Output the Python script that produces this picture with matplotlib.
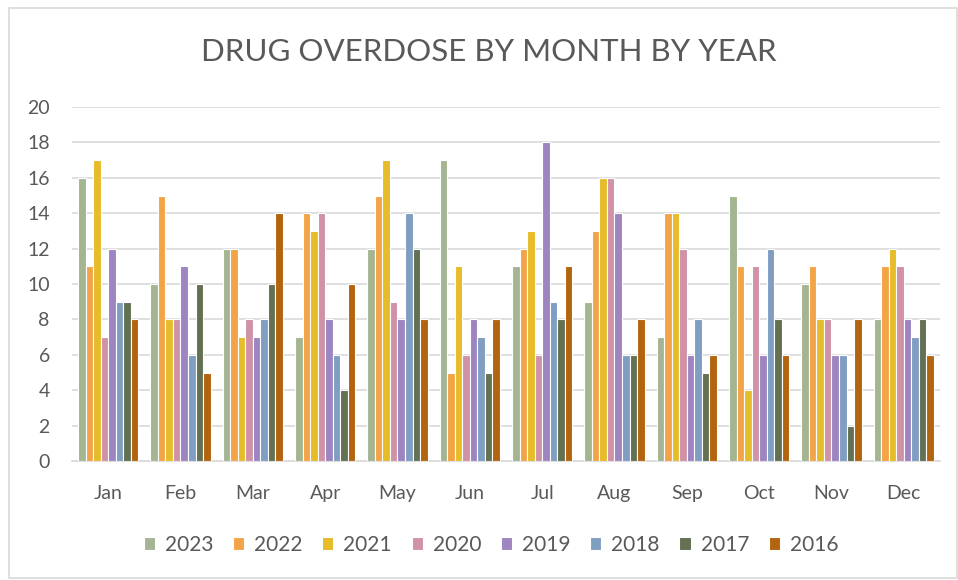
import matplotlib
matplotlib.use("Agg")
import matplotlib.pyplot as plt
from matplotlib.patches import Rectangle
import numpy as np

months = ["Jan", "Feb", "Mar", "Apr", "May", "Jun", "Jul", "Aug", "Sep", "Oct", "Nov", "Dec"]
years = ["2023", "2022", "2021", "2020", "2019", "2018", "2017", "2016"]
colors = ["#A5B592", "#F3A447", "#E7BC29", "#D092A7", "#9C85C0", "#809EC2", "#637052", "#B3640F"]

y2023 = [16, 10, 12, 7, 12, 17, 11, 9, 7, 15, 10, 8]
y2022 = [11, 15, 12, 14, 15, 5, 12, 13, 14, 11, 11, 11]
y2021 = [17, 8, 7, 13, 17, 11, 13, 16, 14, 4, 8, 12]
y2020 = [7, 8, 8, 14, 9, 6, 6, 16, 12, 11, 8, 11]
y2019 = [12, 11, 7, 8, 8, 8, 18, 14, 6, 6, 6, 8]
y2018 = [9, 6, 8, 6, 14, 7, 9, 6, 8, 12, 6, 7]
y2017 = [9, 10, 10, 4, 12, 5, 8, 6, 5, 8, 2, 8]
y2016 = [8, 5, 14, 10, 8, 8, 11, 8, 6, 6, 8, 6]
series = [y2023, y2022, y2021, y2020, y2019, y2018, y2017, y2016]

plt.rcParams['font.family'] = ['Lato', 'DejaVu Sans']
txt = "#595959"
grid = "#D9D9D9"

fig = plt.figure(figsize=(9.58, 5.8), dpi=100)
W, H = 958, 580
ax = fig.add_axes([72 / W, (H - 461) / H, (940 - 72) / W, (461 - 107) / H])

x = np.arange(len(months))
n = len(series)
slot = 0.104
for i, (vals, c, lab) in enumerate(zip(series, colors, years)):
    off = (i - (n - 1) / 2) * slot
    ax.bar(x + off, vals, width=slot, color=c, edgecolor="white", linewidth=0.8, label=lab, zorder=3)

ax.set_xlim(-0.5, len(months) - 0.5)
ax.set_ylim(0, 20)
ax.set_yticks(range(0, 21, 2))
ax.set_xticks(x)
ax.set_xticklabels(months)
ax.yaxis.grid(True, color=grid, linewidth=1.2, zorder=0)
ax.set_axisbelow(True)
for s in ["top", "right", "left"]:
    ax.spines[s].set_visible(False)
ax.spines["bottom"].set_color(grid)
ax.spines["bottom"].set_linewidth(1.2)
ax.tick_params(axis="both", length=0, colors=txt, labelsize=14)
ax.tick_params(axis="y", pad=16)
ax.tick_params(axis="x", pad=17.5)

fig.text(489 / W, 1 - 52 / H, "DRUG OVERDOSE BY MONTH BY YEAR", ha="center", va="center",
         fontsize=22.5, color=txt)

leg = fig.legend(loc="center", bbox_to_anchor=(491 / W, 1 - 545 / H), ncol=8, frameon=False,
                 fontsize=15, labelcolor=txt, handlelength=0.53, handleheight=0.53,
                 handletextpad=0.48, columnspacing=0.95)

fig.patches.append(Rectangle((9 / W, 2 / H), (W - 10) / W, (H - 10) / H, transform=fig.transFigure,
                             fill=False, edgecolor=grid, linewidth=1.2))

fig.savefig("out.png", dpi=100)
